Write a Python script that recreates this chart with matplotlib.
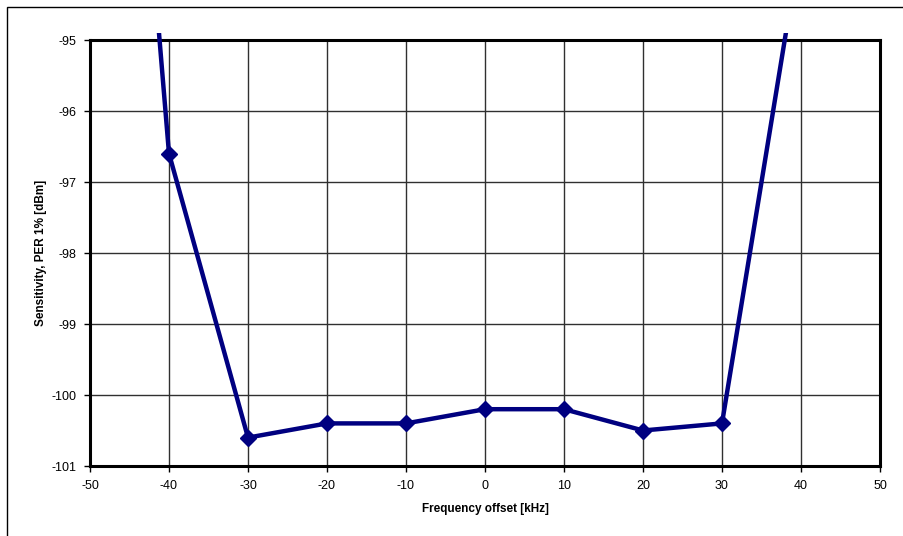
import matplotlib
matplotlib.use("Agg")
import matplotlib.pyplot as plt
from matplotlib.patches import Rectangle

plt.rcParams['font.family'] = ['Liberation Sans', 'DejaVu Sans']

# --- Data ---
freq_offset = [-50, -40, -30, -20, -10, 0, 10, 20, 30, 40]
sensitivity = [-83.2, -96.6, -100.6, -100.4, -100.4, -100.2, -100.2, -100.5, -100.4, -93.6]
x_ticks = list(range(-50, 51, 10))
y_ticks = list(range(-101, -94))

fig = plt.figure(figsize=(9.04, 5.36), dpi=100)
ax = fig.add_axes([90 / 904, 70 / 536, 790 / 904, 426 / 536])

# outer chart-area border (only left/top edges visible in the crop)
fig.patches.append(Rectangle((7 / 904, -0.1), 1.2, (536 - 7) / 536 + 0.1,
                             transform=fig.transFigure, fill=False,
                             edgecolor='black', linewidth=1.0))

line, = ax.plot(freq_offset, sensitivity, color='#000080', linewidth=3.2,
                marker='D', markersize=8, markeredgecolor='#000080',
                markerfacecolor='#000080', zorder=3)
# Excel lets the line run a little past the top of the plot area
line.set_clip_path(Rectangle((0, 0), 1, 1.017, transform=ax.transAxes))

ax.set_xlim(-50, 50)
ax.set_ylim(-101, -95)
ax.set_xticks(x_ticks)
ax.set_yticks(y_ticks)
ax.set_xticklabels([str(v) for v in x_ticks], fontsize=9)
ax.set_yticklabels([str(v) for v in y_ticks], fontsize=9)
ax.tick_params(direction='out', length=4, width=1, pad=6)

ax.grid(True, color='#303030', linewidth=1.0)
ax.set_axisbelow(True)
for s in ax.spines.values():
    s.set_linewidth(2.2)
    s.set_color('black')

ax.set_xlabel("Frequency offset [kHz]", fontsize=8.5, fontweight='bold', labelpad=8)
ax.set_ylabel("Sensitivity, PER 1% [dBm]", fontsize=8.5, fontweight='bold', labelpad=3)

fig.savefig("out.png", dpi=100)
